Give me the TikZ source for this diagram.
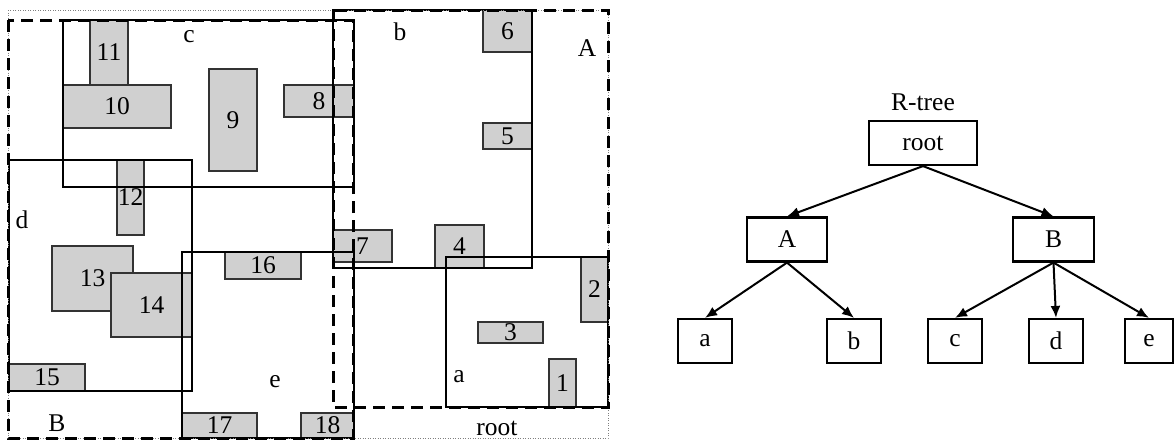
\documentclass[tikz,border=0pt]{standalone}
\usepackage{fontspec}
\setmainfont{Liberation Serif}
\usetikzlibrary{arrows.meta}
\tikzset{
  gbox/.style={draw=black!80, fill={rgb,255:red,208;green,208;blue,208}, line width=1.3pt},
  mbr/.style={draw=black, line width=1.9pt},
  dmbr/.style={draw=black, line width=3pt, dash pattern=on 12pt off 7pt},
  rootbox/.style={draw=gray, line width=1pt, dash pattern=on 1pt off 1.5pt},
  lbl/.style={inner sep=0pt},
  tnode/.style={draw, line width=2.2pt, inner sep=0pt, minimum height=44pt},
  tarr/.style={line width=2pt, -{Latex[length=12pt,width=10pt]}}
}
\newcommand\gbx[5]{%
  \draw[gbox] (#1,#2) rectangle (#3,#4);
  \node[lbl] (o#5) at ({(#1+#3)/2},{(#2+#4)/2}) {#5};}
\begin{document}
\begin{tikzpicture}[x=1pt,y=-1pt,font=\fontsize{25.5}{30}\selectfont]
\useasboundingbox (0,0) rectangle (1174,439);
% grey objects
\gbx{90}{20}{128}{85}{11}
\gbx{63}{85}{171}{128}{10}
\gbx{209}{69}{257}{171}{9}
\gbx{284}{85}{354}{117}{8}
\gbx{117}{160}{144}{235}{12}
\gbx{52}{246}{133}{311}{13}
\gbx{111}{273}{192}{337}{14}
\gbx{9}{364}{85}{391}{15}
\gbx{225}{252}{301}{279}{16}
\gbx{182}{413}{257}{438}{17}
\gbx{301}{413}{354}{438}{18}
\gbx{483}{10}{532}{52}{6}
\gbx{483}{123}{532}{149}{5}
\gbx{333}{230}{392}{262}{7}
\gbx{435}{225}{484}{268}{4}
\gbx{581}{257}{608}{322}{2}
\gbx{478}{322}{543}{343}{3}
\gbx{549}{359}{576}{407}{1}
% leaf MBRs
\draw[mbr] (63,20) rectangle (354,187);
\draw[mbr] (9,160) rectangle (192,391);
\draw[mbr] (182,252) rectangle (354,438);
\draw[mbr] (333,10) rectangle (532,268);
\draw[mbr] (446,257) rectangle (608,407);
% root and upper MBRs
\draw[rootbox] (8,10) rectangle (608,438);
\draw[dmbr] (8,20) rectangle (353,438);
\draw[dmbr] (333,10) rectangle (608,407);
% region labels
\node[lbl] (lc) at (189,37) {c};
\node[lbl] (ld) at (22,220) {d};
\node[lbl] (lB) at (57,423) {B};
\node[lbl] (le) at (275,382) {e};
\node[lbl] (lb) at (400,32) {b};
\node[lbl] (lA) at (587,48) {A};
\node[lbl] (la) at (459,377) {a};
\node[lbl] (lroot) at (497,428) {root};
% tree
\node[lbl] (rtl) at (923,102) {R-tree};
\node[tnode, minimum width=108pt] (troot) at (923,143) {root};
\node[tnode, minimum width=80pt] (tA) at (787,239.5) {A};
\node[tnode, minimum width=81pt] (tB) at (1053.5,239.5) {B};
\node[tnode, minimum width=54pt] (ta) at (705,341) {a};
\node[tnode, minimum width=54pt] (tb) at (854,341) {b};
\node[tnode, minimum width=54pt] (tc) at (955,341) {c};
\node[tnode, minimum width=54pt] (td) at (1056,341) {d};
\node[tnode, minimum width=48pt] (te) at (1149,341) {e};
\draw[tarr] (troot.south) -- (tA.north);
\draw[tarr] (troot.south) -- (tB.north);
\draw[tarr] (tA.south) -- (ta.north);
\draw[tarr] (tA.south) -- (tb.north);
\draw[tarr] (tB.south) -- (tc.north);
\draw[tarr] (tB.south) -- (td.north);
\draw[tarr] (tB.south) -- (te.north);
\end{tikzpicture}
\end{document}
